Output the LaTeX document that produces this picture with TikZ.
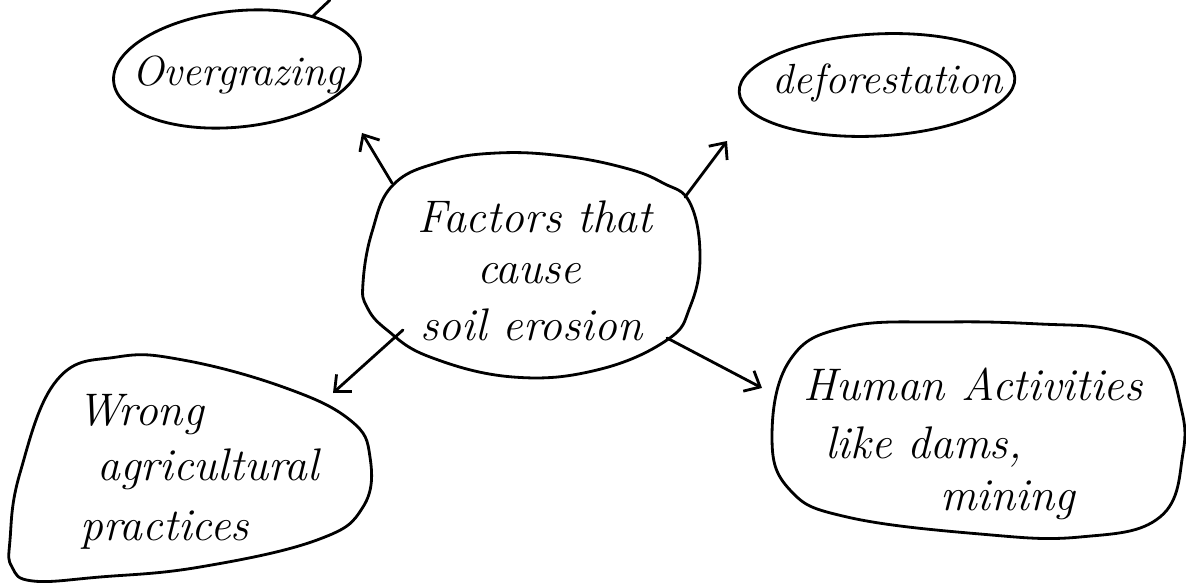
\documentclass[tikz,border=0pt]{standalone}
\usetikzlibrary{arrows.meta}
\begin{document}
\begin{tikzpicture}[x=0.02cm,y=-0.02cm,
  outline/.style={line width=1.6pt,line join=round,line cap=round},
  link/.style={line width=1.6pt,line cap=round,-{Straight Barb[length=2.6mm,width=4.6mm]}},
  hand/.style={inner sep=0pt,anchor=base west,font=\fontsize{26}{30}\selectfont\itshape},
  handsmall/.style={hand,font=\fontsize{24}{28}\selectfont\itshape}]
\useasboundingbox (0,0) rectangle (1186,584);

% outlines of the bubbles
\draw[outline] (237,69) ellipse[x radius=124, y radius=58, rotate=6];
\draw[outline] (877,85) ellipse[x radius=138, y radius=51, rotate=3];
\draw[outline] plot[smooth cycle,tension=0.7] coordinates {
  (363,283) (372,232) (393,185) (440,162) (497,153) (563,156) (625,168)
  (663,183) (690,203) (700,257) (690,307) (667,340) (597,370)
  (513,377) (430,357) (387,330) (367,307)};
\draw[outline] plot[smooth cycle,tension=0.7] coordinates {
  (10,540) (20,473) (57,380) (117,357) (183,360) (283,387) (350,420)
  (370,457) (363,507) (317,540) (200,567) (100,577) (33,581) (12,567)};
\draw[outline] plot[smooth cycle,tension=0.7] coordinates {
  (772,437) (790,360) (847,327) (947,322) (1040,324) (1113,330) (1160,353)
  (1180,403) (1183,453) (1160,517) (1080,537) (980,534) (847,517) (790,490)};

% texts
\node[handsmall] (og)  at (132,86)  {Overgrazing};
\node[handsmall] (df)  at (772,94)  {deforestation};
\node[hand] (c1)  at (417,233) {Factors that};
\node[hand] (c2)  at (477,283) {cause};
\node[hand] (c3)  at (420,340) {soil erosion};
\node[hand] (w1)  at (77,425)  {Wrong};
\node[hand] (w2)  at (97,480)  {agricultural};
\node[hand] (w3)  at (80,540)  {practices};
\node[hand] (h1)  at (803,400) {Human Activities};
\node[hand] (h2)  at (825,458) {like dams,};
\node[hand] (h3)  at (940,510) {mining};

% connector ends
\coordinate (cOg) at (392,183);
\coordinate (tOg) at (362,133);
\coordinate (cDf) at (685,197);
\coordinate (tDf) at (727,141);
\coordinate (cW)  at (403,330);
\coordinate (tW)  at (333,393);
\coordinate (cH)  at (667,338);
\coordinate (tH)  at (762,388);
\coordinate (topIn)  at (330,0);
\coordinate (topEnd) at (313,16);

\draw[link] (cOg) -- (tOg);
\draw[link] (cDf) -- (tDf);
\draw[link] (cW) -- (tW);
\draw[link] (cH) -- (tH);
\draw[outline] (topIn) -- (topEnd);
\end{tikzpicture}
\end{document}
